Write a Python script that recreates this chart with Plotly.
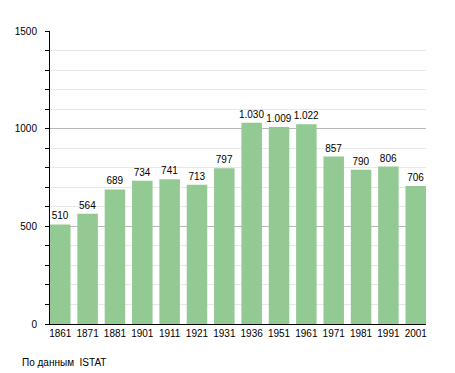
import plotly.graph_objects as go

years = ["1861", "1871", "1881", "1901", "1911", "1921", "1931", "1936", "1951", "1961", "1971", "1981", "1991", "2001"]
population = [510, 564, 689, 734, 741, 713, 797, 1030, 1009, 1022, 857, 790, 806, 706]
value_labels = ["510", "564", "689", "734", "741", "713", "797", "1.030", "1.009", "1.022", "857", "790", "806", "706"]
y_ticks = [0, 500, 1000, 1500]
source_text = "По данным  ISTAT"

FONT = "Liberation Sans, Arial, sans-serif"

# The page body adds an 8px margin, so the figure is drawn 8px smaller
# and its margins are shifted accordingly.
fig = go.Figure(go.Bar(
    x=years,
    y=population,
    text=value_labels,
    textposition="outside",
    textfont=dict(family=FONT, size=10, color="#000000"),
    marker=dict(color="#93c993", line=dict(width=0)),
    cliponaxis=False,
    hoverinfo="x+y",
))

fig.update_layout(
    width=447,
    height=365,
    margin=dict(l=42, r=29, t=23, b=49),
    paper_bgcolor="#ffffff",
    plot_bgcolor="#ffffff",
    bargap=0.25,
    showlegend=False,
    uniformtext=dict(minsize=10, mode="show"),
    font=dict(family=FONT, size=10, color="#000000"),
    xaxis=dict(
        type="category",
        range=[-0.375, 13.375],
        automargin=False,
        showgrid=False,
        showline=True,
        linecolor="#000000",
        linewidth=1,
        ticks="",
        tickfont=dict(family=FONT, size=10, color="#000000"),
        fixedrange=True,
    ),
    yaxis=dict(
        range=[0, 1500],
        automargin=False,
        tickvals=y_ticks,
        ticktext=[str(v) for v in y_ticks],
        showgrid=True,
        gridcolor="#b8b8b8",
        gridwidth=1,
        showline=True,
        linecolor="#000000",
        linewidth=1,
        ticks="outside",
        ticklen=4,
        tickcolor="#000000",
        ticklabelstandoff=6,
        zeroline=False,
        minor=dict(
            dtick=100,
            showgrid=True,
            gridcolor="#e8e8e8",
            gridwidth=1,
            ticks="outside",
            ticklen=4,
            tickcolor="#000000",
        ),
        tickfont=dict(family=FONT, size=10, color="#000000"),
        fixedrange=True,
    ),
)

fig.add_annotation(
    text=source_text,
    xref="paper", yref="paper",
    x=-0.08, y=-0.13,
    xanchor="left", yanchor="middle",
    showarrow=False,
    font=dict(family=FONT, size=10, color="#000000"),
)

fig.write_html("out.html")
